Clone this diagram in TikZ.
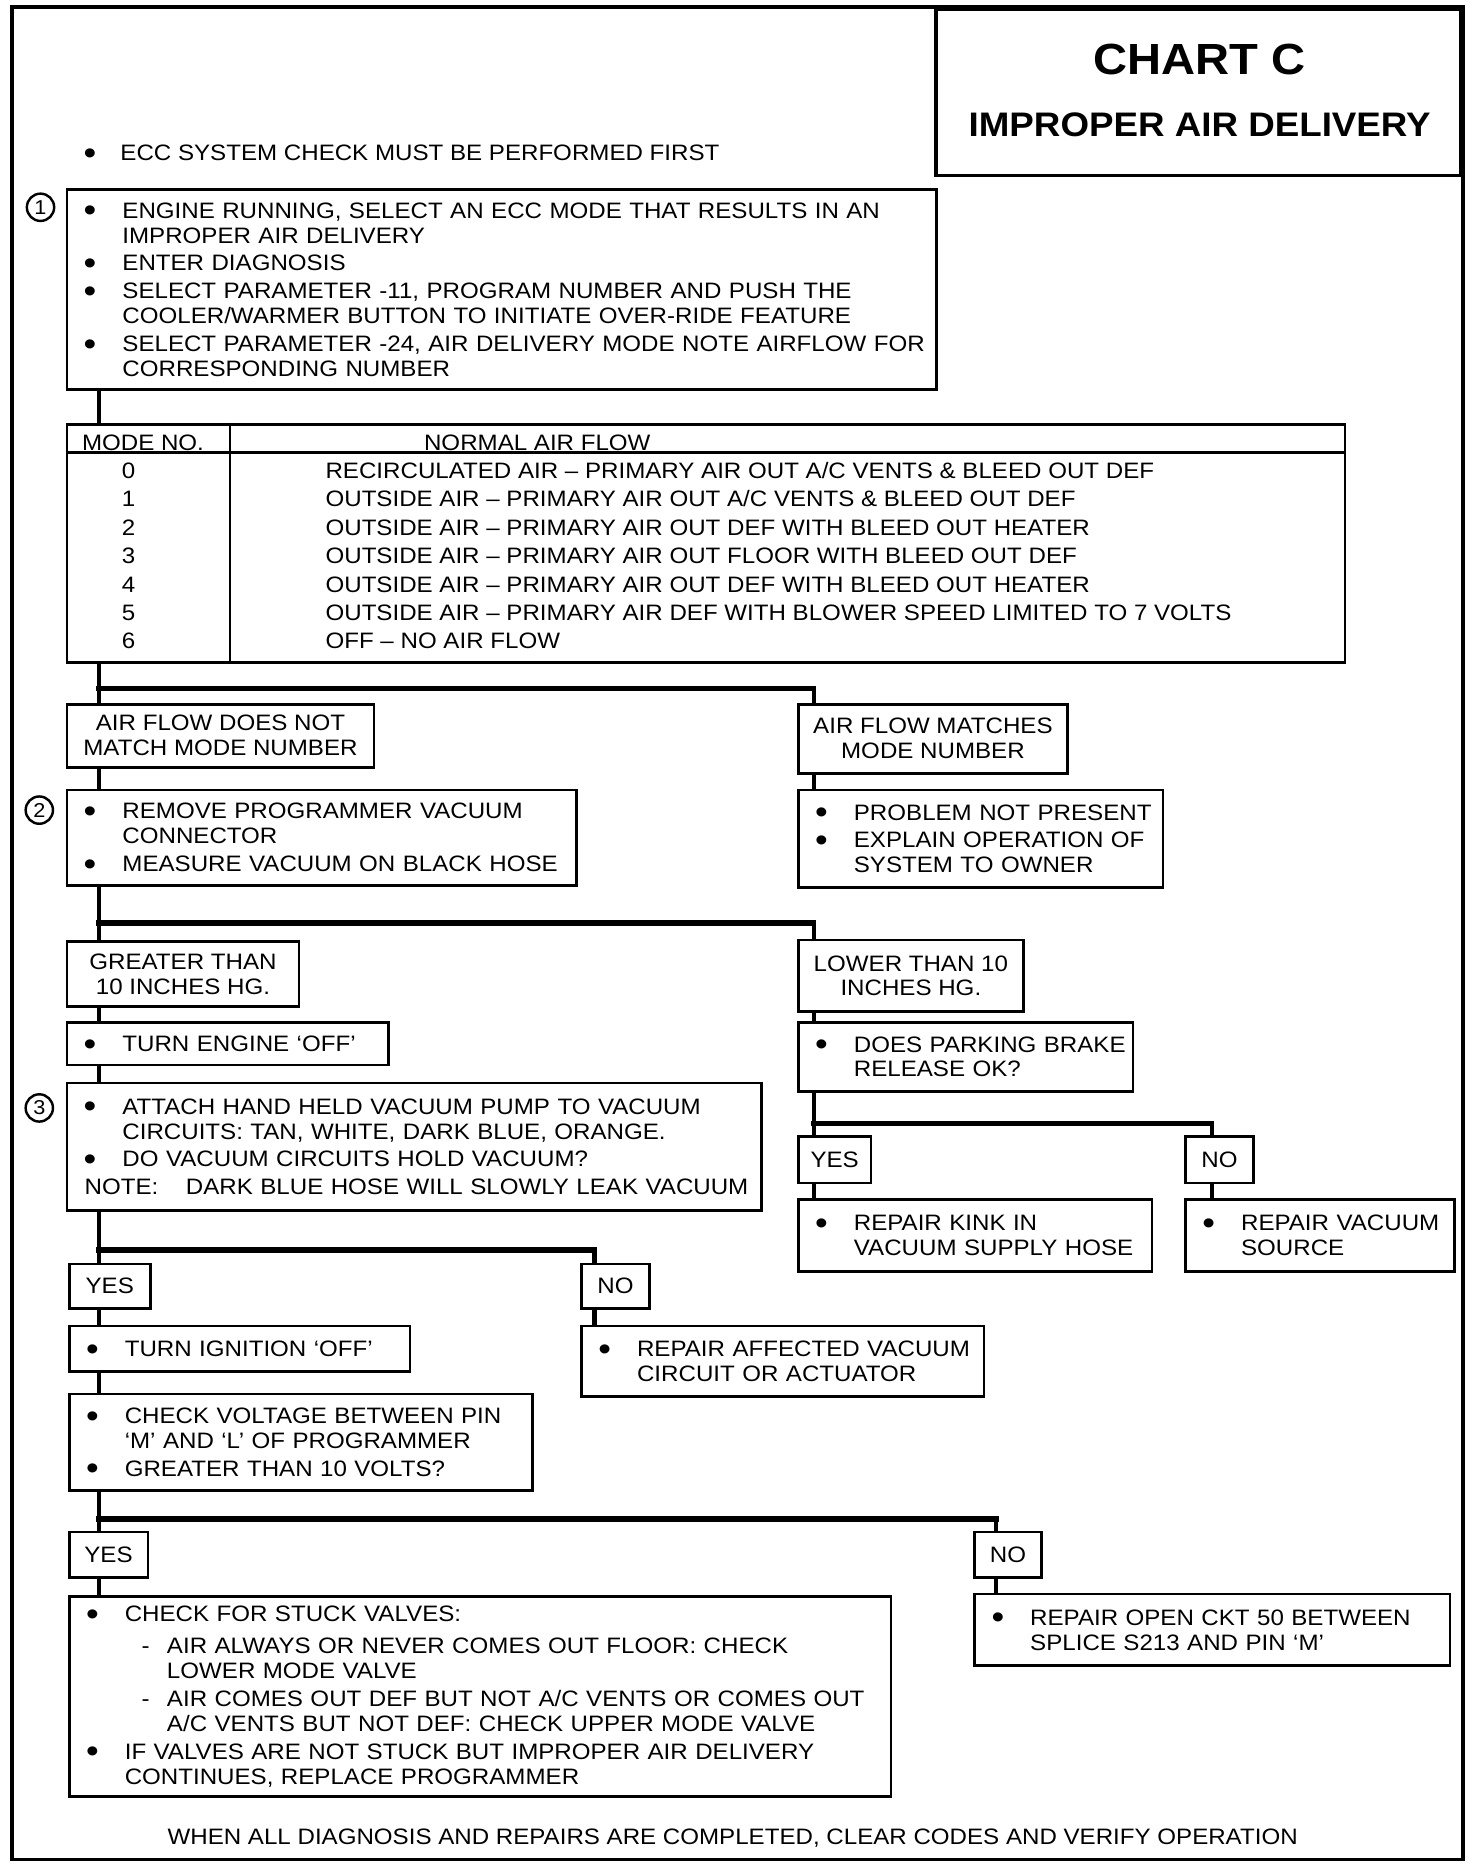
\documentclass[tikz,border=0pt]{standalone}
\usepackage{graphicx}
\usepackage{fontspec}
\setmainfont{Liberation Sans}[FakeStretch=1.08]

\newcommand{\chartfont}{\fontsize{12.8pt}{14.3pt}\selectfont}
\newcommand{\bulletmark}{\smash{\raisebox{-2.1pt}{\scalebox{1.5}{\textbullet}}}}
\newcommand{\fitem}{\hangindent=1.12cm\hangafter=1\noindent\hspace*{0.34cm}\makebox[0.78cm][l]{\bulletmark}}
\newcommand{\bitem}{\par\vspace{1.6pt}\fitem}
\newcommand{\ditem}{\par\vspace{1.6pt}\hangindent=1.97cm\hangafter=1\noindent\hspace*{1.46cm}\makebox[0.51cm][l]{-}}

\begin{document}
\begin{tikzpicture}[x=0.024cm, y=-0.024cm, font=\chartfont,
  frame/.style={line width=2pt},
  box/.style={draw, line width=1.5pt, anchor=north west, inner sep=0pt, align=left},
  cbox/.style={draw, line width=1.5pt, anchor=north west, inner sep=0pt, align=center},
  conn/.style={line width=2.4pt},
  branch/.style={line width=3.2pt, line cap=rect},
  stepno/.style={draw, circle, line width=1.4pt, inner sep=0pt, minimum size=0.55cm,
    font=\fontsize{11.5pt}{12pt}\selectfont},
  row/.style={inner sep=0pt, anchor=base west}]
  \useasboundingbox (0,0) rectangle (1236,1568);
  \draw[frame] (10,6) rectangle (1228,1561);

  % title block
  \node[draw, frame, anchor=north east, minimum width=10.584cm, minimum height=3.36cm] (titlebox) at (1228,6) {};
  \node[font=\bfseries\fontsize{25pt}{30pt}\selectfont] (chart) at (1007,50) {CHART C};
  \node[font=\bfseries\fontsize{19.5pt}{23pt}\selectfont] (subject) at (1007,105) {IMPROPER AIR DELIVERY};

  \node[row] (first) at (70,134.7) {\makebox[0.74cm][l]{\bulletmark}ECC SYSTEM CHECK MUST BE PERFORMED FIRST};

  \node[stepno] (s1) at (34,174) {1};
  \node[stepno] (s2) at (33,680) {2};
  \node[stepno] (s3) at (33,930) {3};

  \node[box, text width=17.52cm, minimum height=4.032cm] (check) at (55,158)
    {\fitem ENGINE RUNNING, SELECT AN ECC MODE THAT RESULTS IN AN\newline IMPROPER AIR DELIVERY
     \bitem ENTER DIAGNOSIS
     \bitem SELECT PARAMETER -11, PROGRAM NUMBER AND PUSH THE\newline COOLER/WARMER BUTTON TO INITIATE OVER-RIDE FEATURE
     \bitem SELECT PARAMETER -24, AIR DELIVERY MODE NOTE AIRFLOW FOR\newline CORRESPONDING NUMBER\par};

  % mode table
  \node[draw, line width=1.5pt, anchor=north west, inner sep=0pt, minimum width=25.752cm, minimum height=4.8cm] (modes) at (55,355) {};
  \draw[line width=1.5pt] (55,380) -- (1128,380);
  \draw[line width=1.5pt] (193,355) -- (193,555);
  \node[row, anchor=base] (hmode) at (120,378) {MODE NO.};
  \node[row, anchor=base] (hflow) at (451,378) {NORMAL AIR FLOW};
  \foreach \t [count=\i from 0] in {
    {RECIRCULATED AIR – PRIMARY AIR OUT A/C VENTS \& BLEED OUT DEF},
    {OUTSIDE AIR – PRIMARY AIR OUT A/C VENTS \& BLEED OUT DEF},
    {OUTSIDE AIR – PRIMARY AIR OUT DEF WITH BLEED OUT HEATER},
    {OUTSIDE AIR – PRIMARY AIR OUT FLOOR WITH BLEED OUT DEF},
    {OUTSIDE AIR – PRIMARY AIR OUT DEF WITH BLEED OUT HEATER},
    {OUTSIDE AIR – PRIMARY AIR DEF WITH BLOWER SPEED LIMITED TO 7 VOLTS},
    {OFF – NO AIR FLOW}}
  {
    \node[row, anchor=base] (mode\i) at (108,{401.7+23.83*\i}) {\i};
    \node[row] (flow\i) at (273,{401.7+23.83*\i}) {\t};
  }

  \node[cbox, minimum width=6.192cm, minimum height=1.272cm] (nomatch) at (55,590) {AIR FLOW DOES NOT\\MATCH MODE NUMBER};
  \node[cbox, minimum width=5.424cm, minimum height=1.392cm] (match) at (669,590) {AIR FLOW MATCHES\\MODE NUMBER};

  \node[box, text width=10.272cm, minimum height=1.92cm] (vacuum) at (55,662)
    {\fitem REMOVE PROGRAMMER VACUUM\newline CONNECTOR
     \bitem MEASURE VACUUM ON BLACK HOSE\par};
  \node[box, text width=7.344cm, minimum height=1.968cm] (notpresent) at (669,662)
    {\fitem PROBLEM NOT PRESENT
     \bitem EXPLAIN OPERATION OF\newline SYSTEM TO OWNER\par};

  \node[cbox, minimum width=4.68cm, minimum height=1.32cm] (greater) at (55,789) {GREATER THAN\\10 INCHES HG.};
  \node[cbox, minimum width=4.536cm, minimum height=1.44cm] (lower) at (669,788) {LOWER THAN 10\\INCHES HG.};

  \node[box, text width=6.48cm, minimum height=0.864cm] (engoff) at (55,857)
    {\fitem TURN ENGINE ‘OFF’\par};
  \node[box, text width=6.744cm, minimum height=1.392cm] (brake) at (669,857)
    {\fitem DOES PARKING BRAKE\newline RELEASE OK?\par};

  \node[box, text width=13.992cm, minimum height=2.568cm] (pump) at (55,908)
    {\fitem ATTACH HAND HELD VACUUM PUMP TO VACUUM\newline CIRCUITS: TAN, WHITE, DARK BLUE, ORANGE.
     \bitem DO VACUUM CIRCUITS HOLD VACUUM?
     \par\vspace{1.6pt}\noindent\hspace*{0.36cm}\makebox[2.04cm][l]{NOTE:}DARK BLUE HOSE WILL SLOWLY LEAK VACUUM\par};

  \node[cbox, minimum width=1.464cm, minimum height=0.936cm] (yesA) at (669,953) {YES};
  \node[cbox, minimum width=1.368cm, minimum height=0.936cm] (noA) at (994,953) {NO};
  \node[box, text width=7.128cm, minimum height=1.44cm] (kink) at (669,1006)
    {\fitem REPAIR KINK IN\newline VACUUM SUPPLY HOSE\par};
  \node[box, text width=5.424cm, minimum height=1.44cm] (source) at (994,1006)
    {\fitem REPAIR VACUUM\newline SOURCE\par};

  \node[cbox, minimum width=1.632cm, minimum height=0.888cm] (yesB) at (57,1060) {YES};
  \node[cbox, minimum width=1.368cm, minimum height=0.888cm] (noB) at (487,1060) {NO};
  \node[box, text width=6.864cm, minimum height=0.912cm] (ignoff) at (57,1112)
    {\fitem TURN IGNITION ‘OFF’\par};
  \node[box, text width=8.112cm, minimum height=1.416cm] (affected) at (487,1112)
    {\fitem REPAIR AFFECTED VACUUM\newline CIRCUIT OR ACTUATOR\par};
  \node[box, text width=9.336cm, minimum height=1.944cm] (voltage) at (57,1169)
    {\fitem CHECK VOLTAGE BETWEEN PIN\newline ‘M’ AND ‘L’ OF PROGRAMMER
     \bitem GREATER THAN 10 VOLTS?\par};

  \node[cbox, minimum width=1.584cm, minimum height=0.912cm] (yesC) at (57,1285) {YES};
  \node[cbox, minimum width=1.344cm, minimum height=0.912cm] (noC) at (817,1285) {NO};
  \node[box, text width=16.56cm, minimum height=4.032cm] (stuck) at (57,1339)
    {\fitem CHECK FOR STUCK VALVES:\vspace{2.5pt}
     \ditem AIR ALWAYS OR NEVER COMES OUT FLOOR: CHECK\newline LOWER MODE VALVE
     \ditem AIR COMES OUT DEF BUT NOT A/C VENTS OR COMES OUT\newline A/C VENTS BUT NOT DEF: CHECK UPPER MODE VALVE
     \bitem IF VALVES ARE NOT STUCK BUT IMPROPER AIR DELIVERY\newline CONTINUES, REPLACE PROGRAMMER\par};
  \node[box, text width=9.576cm, minimum height=1.44cm] (openckt) at (817,1337)
    {\fitem REPAIR OPEN CKT 50 BETWEEN\newline SPLICE S213 AND PIN ‘M’\par};

  \node (closing) at (615,1543) {WHEN ALL DIAGNOSIS AND REPAIRS ARE COMPLETED, CLEAR CODES AND VERIFY OPERATION};

  % flow lines
  \coordinate (trunkA) at (83,0);
  \coordinate (trunkB) at (683,0);
  \coordinate (trunkC) at (1017,0);
  \coordinate (trunkD) at (499,0);
  \coordinate (trunkE) at (836,0);
  \coordinate (forkA) at (0,578);
  \coordinate (forkB) at (0,775);
  \coordinate (forkC) at (0,943);
  \coordinate (forkD) at (0,1049);
  \coordinate (forkE) at (0,1275);

  \draw[conn] (check.south -| trunkA) -- (modes.north -| trunkA);
  \draw[conn] (modes.south -| trunkA) -- (nomatch.north -| trunkA);
  \draw[branch] (forkA -| trunkA) -- (forkA -| trunkB);
  \draw[conn] (forkA -| trunkB) -- (match.north -| trunkB);
  \draw[conn] (nomatch.south -| trunkA) -- (vacuum.north -| trunkA);
  \draw[conn] (match.south -| trunkB) -- (notpresent.north -| trunkB);

  \draw[conn] (vacuum.south -| trunkA) -- (greater.north -| trunkA);
  \draw[branch] (forkB -| trunkA) -- (forkB -| trunkB);
  \draw[conn] (forkB -| trunkB) -- (lower.north -| trunkB);
  \draw[conn] (greater.south -| trunkA) -- (engoff.north -| trunkA);
  \draw[conn] (engoff.south -| trunkA) -- (pump.north -| trunkA);
  \draw[conn] (lower.south -| trunkB) -- (brake.north -| trunkB);

  \draw[conn] (brake.south -| trunkB) -- (yesA.north -| trunkB);
  \draw[branch] (forkC -| trunkB) -- (forkC -| trunkC);
  \draw[conn] (forkC -| trunkC) -- (noA.north -| trunkC);
  \draw[conn] (yesA.south -| trunkB) -- (kink.north -| trunkB);
  \draw[conn] (noA.south -| trunkC) -- (source.north -| trunkC);

  \draw[conn] (pump.south -| trunkA) -- (yesB.north -| trunkA);
  \draw[branch] (forkD -| trunkA) -- (forkD -| trunkD);
  \draw[conn] (forkD -| trunkD) -- (noB.north -| trunkD);
  \draw[conn] (yesB.south -| trunkA) -- (ignoff.north -| trunkA);
  \draw[conn] (ignoff.south -| trunkA) -- (voltage.north -| trunkA);
  \draw[conn] (noB.south -| trunkD) -- (affected.north -| trunkD);

  \draw[conn] (voltage.south -| trunkA) -- (yesC.north -| trunkA);
  \draw[branch] (forkE -| trunkA) -- (forkE -| trunkE);
  \draw[conn] (forkE -| trunkE) -- (noC.north -| trunkE);
  \draw[conn] (yesC.south -| trunkA) -- (stuck.north -| trunkA);
  \draw[conn] (noC.south -| trunkE) -- (openckt.north -| trunkE);
\end{tikzpicture}
\end{document}
